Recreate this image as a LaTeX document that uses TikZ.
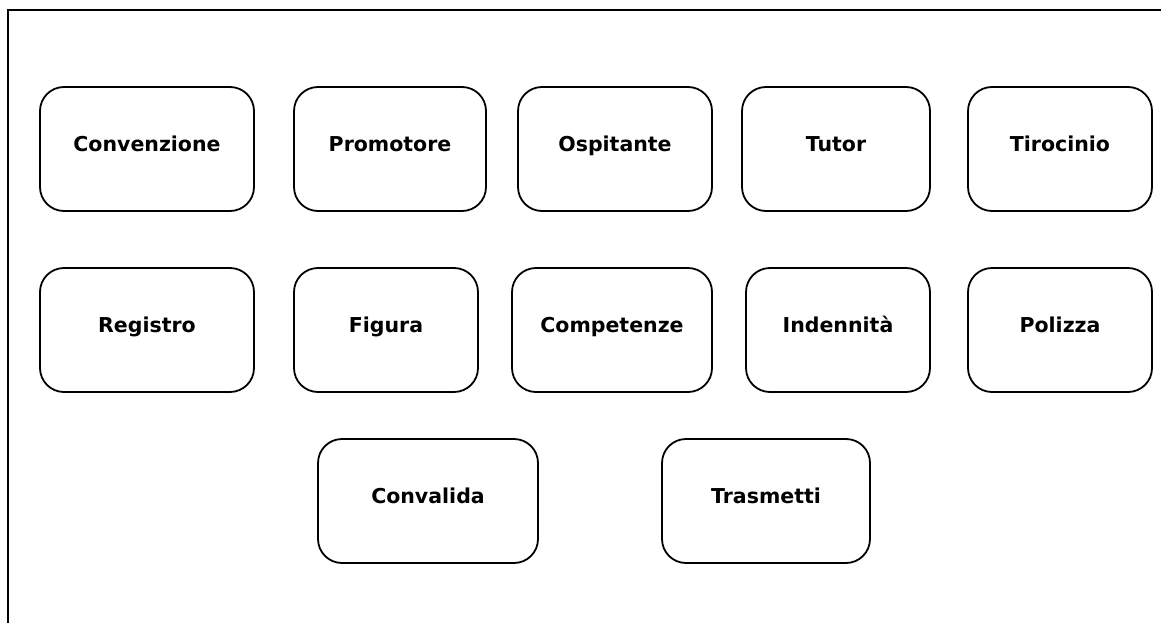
\documentclass[tikz,border=0pt]{standalone}
\usepackage{fontspec}
\setmainfont{DejaVu Sans}
\begin{document}
\begin{tikzpicture}[x=1pt,y=-1pt,
  card/.style={draw=black, line width=1.8pt, rounded corners=24pt, fill=white,
    inner sep=0pt, font=\bfseries\fontsize{20.5}{24}\selectfont,
    text height=15pt, text depth=11pt, align=center},
  frameline/.style={draw=black, line width=2pt}]
\useasboundingbox (0,0) rectangle (1161,623);
\draw[frameline] (8,640) -- (8,10) -- (1170,10);
% row 1
\node[card, minimum width=214pt, minimum height=124pt] (conv) at (147,149) {Convenzione};
\node[card, minimum width=192pt, minimum height=124pt] (prom) at (390,149) {Promotore};
\node[card, minimum width=194pt, minimum height=124pt] (osp) at (615,149) {Ospitante};
\node[card, minimum width=188pt, minimum height=124pt] (tut) at (836,149) {Tutor};
\node[card, minimum width=184pt, minimum height=124pt] (tir) at (1060,149) {Tirocinio};
% row 2
\node[card, minimum width=214pt, minimum height=124pt] (reg) at (147,330) {Registro};
\node[card, minimum width=184pt, minimum height=124pt] (fig) at (386,330) {Figura};
\node[card, minimum width=200pt, minimum height=124pt] (comp) at (612,330) {Competenze};
\node[card, minimum width=184pt, minimum height=124pt] (ind) at (838,330) {Indennità};
\node[card, minimum width=184pt, minimum height=124pt] (pol) at (1060,330) {Polizza};
% row 3
\node[card, minimum width=220pt, minimum height=124pt] (cval) at (428,501) {Convalida};
\node[card, minimum width=208pt, minimum height=124pt] (tras) at (766,501) {Trasmetti};
\end{tikzpicture}
\end{document}
